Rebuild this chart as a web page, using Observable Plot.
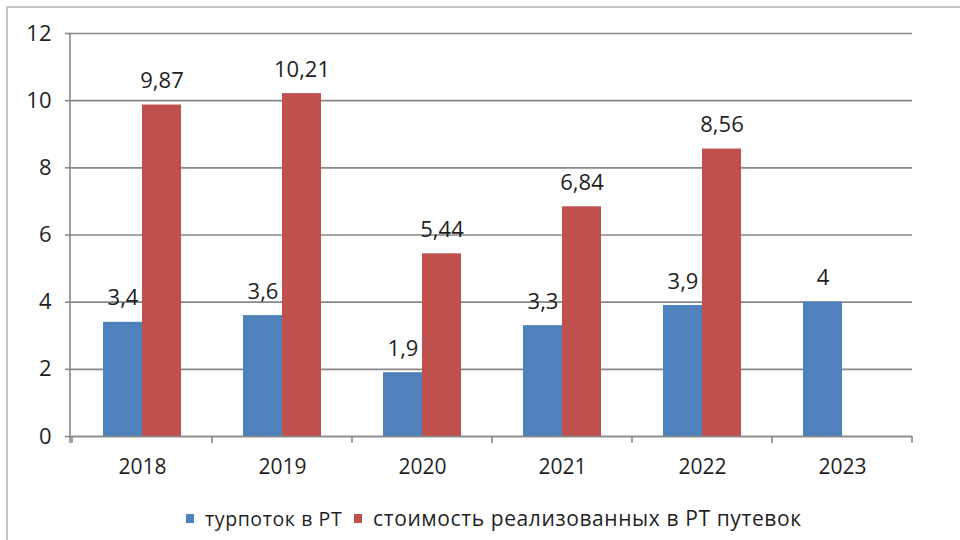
<!DOCTYPE html>
<html><head><meta charset="utf-8">
<script src="https://cdn.jsdelivr.net/npm/d3@7"></script>
<script src="https://cdn.jsdelivr.net/npm/@observablehq/plot@0.6"></script>
<style>
html,body{margin:0;padding:0;background:#fff;overflow:hidden;width:960px;height:540px}
#wrap{position:relative;width:960px;height:540px;font-family:"Open Sans",sans-serif;color:#1f1f1f}
#border{position:absolute;left:6px;top:6px;width:1000px;height:600px;border:2px solid #c4c4c4;box-sizing:border-box;pointer-events:none}
#chart{position:absolute;left:0;top:0}
#legend{position:absolute;top:503px;left:0;width:960px;height:30px;font-size:20.5px;white-space:nowrap;letter-spacing:0.6px}
.item{position:absolute;top:0;display:flex;align-items:center;height:30px}
.sw{width:8px;height:9px;margin-right:11px}
</style></head>
<body><div id="wrap"><div id="chart"></div><div id="legend"></div><div id="border"></div></div>
<script>
const years = ["2018","2019","2020","2021","2022","2023"];
const seriesNames = ["турпоток в РТ","стоимость реализованных в РТ путевок"];
const tourFlow = [3.4,3.6,1.9,3.3,3.9,4];
const tourCost = [9.87,10.21,5.44,6.84,8.56,null];
const colors = ["#4F81BD","#C0504D"];
const yTicks = [0,2,4,6,8,10,12];

const data = years.flatMap((yr,i)=>[
  {year:yr, series:seriesNames[0], value:tourFlow[i]},
  {year:yr, series:seriesNames[1], value:tourCost[i]}
]).filter(d=>d.value!=null);

const fmt = v => String(v).replace(".", ",");
const gridColor = "#888888";
const textColor = "#1f1f1f";

const chart = Plot.plot({
  width:960, height:490,
  marginLeft:70, marginRight:47, marginTop:33, marginBottom:54,
  style:{fontFamily:"'Open Sans', sans-serif", fontSize:"21px", color:textColor, background:"transparent", overflow:"visible"},
  fx:{domain:years, padding:0, label:null},
  x:{domain:seriesNames, paddingInner:0, paddingOuter:0.756, axis:null},
  y:{domain:[0,12], label:null},
  color:{domain:seriesNames, range:colors},
  marks:[
    Plot.gridY(yTicks,{stroke:gridColor, strokeOpacity:1, strokeWidth:1.6}),
    Plot.axisY(yTicks,{tickSize:7, tickPadding:14, stroke:gridColor, strokeWidth:1.6, fill:textColor, fontSize:22, label:null, tickFormat:d=>String(d)}),
    Plot.axisFx({anchor:"bottom", tickSize:0, tickPadding:23, fill:textColor, fontSize:21, label:null}),
    Plot.barY(data,{fx:"year", x:"series", y:"value", fill:"series"}),
    Plot.ruleY([0],{stroke:gridColor, strokeWidth:1.6}),
    Plot.text(data,{fx:"year", x:"series", y:"value", text:d=>fmt(d.value), dy:-24, fill:textColor, fontSize:22})
  ]
});
document.getElementById("chart").appendChild(chart);

// axis line and category boundary ticks, derived from the scales
const fxS = chart.scale("fx"), yS = chart.scale("y");
const y0 = yS.apply(0), yTop = yS.apply(12);
const svg = d3.select(chart);
const g = svg.append("g").attr("stroke", gridColor).attr("stroke-width", 1.6);
g.append("line").attr("x1", fxS.range[0]).attr("x2", fxS.range[0]).attr("y1", yTop).attr("y2", y0 + 7);
const bounds = years.map(yr => fxS.apply(yr)).concat([fxS.apply(years[years.length-1]) + fxS.bandwidth]);
bounds.forEach(bx => g.append("line").attr("x1", bx).attr("x2", bx).attr("y1", y0).attr("y2", y0 + 7));

// legend
const legend = d3.select("#legend");
const legendLeft = [186, 354];
const legendSize = ["19.5px", "21px"];
seriesNames.forEach((s,i) => {
  const it = legend.append("div").attr("class","item").style("left", legendLeft[i] + "px").style("font-size", legendSize[i]);
  it.append("div").attr("class","sw").style("background", colors[i]);
  it.append("span").text(s);
});
</script></body></html>
